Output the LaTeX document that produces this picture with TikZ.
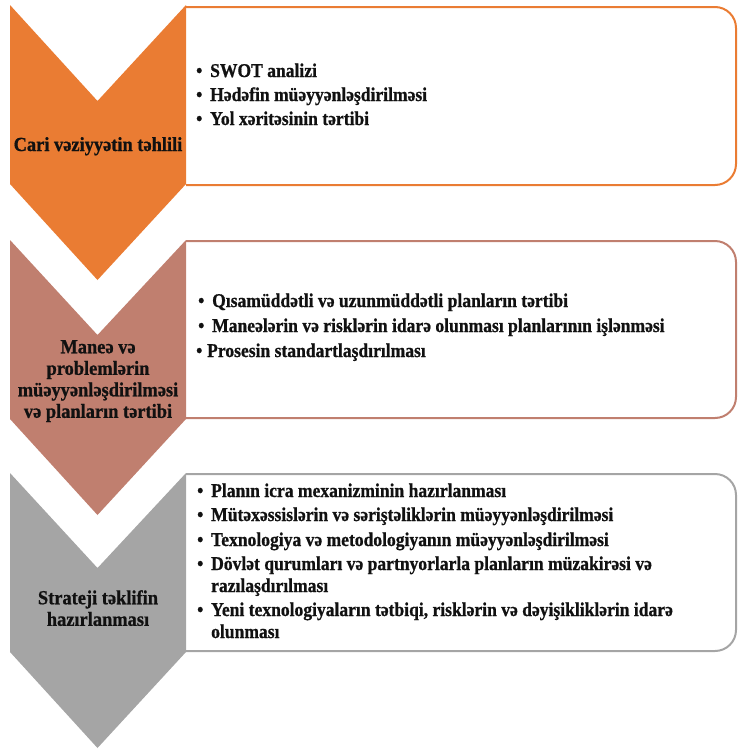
\documentclass[tikz,border=0pt]{standalone}
\usepackage{fontspec}
\setmainfont{Liberation Serif}[FakeStretch=0.9, BoldFeatures={FakeBold=0.8}]
\newfontfamily\lblfont{Liberation Serif}[FakeStretch=0.92, BoldFeatures={FakeBold=0.8}]
\definecolor{cOrange}{HTML}{EA7C33}
\definecolor{cBrown}{HTML}{C07F6F}
\definecolor{cGray}{HTML}{A5A5A5}
\definecolor{cInk}{HTML}{111111}
\newcommand{\bul}{\makebox[14pt][l]{•}}
\newcommand{\hang}{\hspace*{14pt}}
\tikzset{
  panel/.style={line width=2pt, rounded corners=21pt},
  itemtxt/.style={anchor=base west, inner sep=0pt, text=cInk,
    font=\bfseries\fontsize{19.5}{24.5}\selectfont},
  lbltxt/.style={anchor=base, inner sep=0pt, text=cInk, align=center,
    font=\lblfont\bfseries\fontsize{20}{21.5}\selectfont},
}
\begin{document}
\begin{tikzpicture}[x=1pt,y=-1pt]
\useasboundingbox (0,0) rectangle (737,750);

% panels with rounded right-hand corners
\draw[panel, cOrange] (186,7) -- (736,7) -- (736,185) -- (186,185);
\draw[panel, cBrown]  (186,241) -- (736,241) -- (736,418) -- (186,418);
\draw[panel, cGray]   (186,474) -- (736,474) -- (736,651) -- (186,651);

% chevrons
\fill[cOrange] (10,5) -- (97.5,101) -- (186,5) -- (186,184) -- (97.5,280) -- (10,184) -- cycle;
\fill[cBrown]  (10,240) -- (97.5,335) -- (186,240) -- (186,419) -- (97.5,515) -- (10,419) -- cycle;
\fill[cGray]   (10,473) -- (97.5,568) -- (186,473) -- (186,652) -- (97.5,748) -- (10,652) -- cycle;

% chevron labels
\node[lbltxt] (l1) at (98,151) {Cari vəziyyətin təhlili};
\node[lbltxt, anchor=north] (l2) at (98,340) {Maneə və\\problemlərin\\müəyyənləşdirilməsi\\və planların tərtibi};
\node[lbltxt, anchor=north] (l3) at (98,590) {Strateji təklifin\\hazırlanması};

% first panel
\node[itemtxt] (a1) at (196,77)  {\bul SWOT analizi};
\node[itemtxt] (a2) at (196,101) {\bul Hədəfin müəyyənləşdirilməsi};
\node[itemtxt] (a3) at (196,125) {\bul Yol xəritəsinin tərtibi};

% second panel
\node[itemtxt] (b1) at (198,307) {\bul Qısamüddətli və uzunmüddətli planların tərtibi};
\node[itemtxt] (b2) at (198,332) {\bul Maneələrin və risklərin idarə olunması planlarının işlənməsi};
\node[itemtxt] (b3) at (196,357) {\makebox[11pt][l]{•}Prosesin standartlaşdırılması};

% third panel
\node[itemtxt] (c1) at (197,497) {\bul Planın icra mexanizminin hazırlanması};
\node[itemtxt] (c2) at (197,521) {\bul Mütəxəssislərin və səriştəliklərin müəyyənləşdirilməsi};
\node[itemtxt] (c3) at (197,546) {\bul Texnologiya və metodologiyanın müəyyənləşdirilməsi};
\node[itemtxt] (c4) at (197,570) {\bul Dövlət qurumları və partnyorlarla planların müzakirəsi və};
\node[itemtxt] (c5) at (197,592) {\hang razılaşdırılması};
\node[itemtxt] (c6) at (197,616) {\bul Yeni texnologiyaların tətbiqi, risklərin və dəyişikliklərin idarə};
\node[itemtxt] (c7) at (197,638) {\hang olunması};
\end{tikzpicture}
\end{document}
